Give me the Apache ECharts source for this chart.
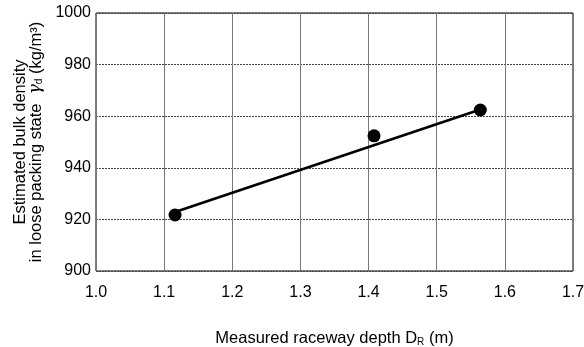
<!DOCTYPE html>
<html><head><meta charset="utf-8">
<script src="https://cdn.jsdelivr.net/npm/echarts@6/dist/echarts.min.js"></script>
<style>html,body{margin:0;padding:0;background:#fff}#c{width:584px;height:347px}</style>
</head><body><div id="c"></div>
<script>
var xTicks = [1.0, 1.1, 1.2, 1.3, 1.4, 1.5, 1.6, 1.7];
var yTicks = [900, 920, 940, 960, 980, 1000];
var measuredDepth = [1.116, 1.408, 1.564];
var bulkDensity = [921.7, 952.4, 962.4];
var fitX = [1.116, 1.564];
var fitY = [922.9, 962.6];

var pts = measuredDepth.map(function(x, i){ return [x, bulkDensity[i]]; });
var fit = fitX.map(function(x, i){ return [x, fitY[i]]; });
var F = '"Liberation Sans", Arial, sans-serif';
var chart = echarts.init(document.getElementById('c'), null, {renderer:'canvas'});
chart.setOption({
  animation:false,
  grid:{left:96, right:11, top:13, bottom:76, outerBoundsMode:'none', containLabel:false, show:true, borderColor:'#000', borderWidth:1, backgroundColor:'transparent'},
  xAxis:{type:'value', min:xTicks[0], max:xTicks[xTicks.length-1], interval:0.1,
    axisLine:{show:false}, axisTick:{show:false},
    axisLabel:{fontFamily:F, fontSize:16, color:'#000', margin:14, formatter:function(v){return v.toFixed(1);}},
    splitLine:{show:true, lineStyle:{color:'#777', width:1}},
    name:'{s|Measured raceway depth D}{sub|R}{s| (m)}', nameLocation:'middle', nameGap:59,
    nameTextStyle:{fontFamily:F, fontSize:16.5, color:'#000',
      rich:{s:{fontFamily:F, fontSize:16.5, color:'#000'}, sub:{fontFamily:F, fontSize:10, color:'#000', verticalAlign:'bottom', padding:[7,0,0,0]}}}
  },
  yAxis:{type:'value', min:yTicks[0], max:yTicks[yTicks.length-1], interval:20,
    axisLine:{show:false}, axisTick:{show:false},
    axisLabel:{fontFamily:F, fontSize:16, color:'#000', margin:5, formatter:function(v){return String(v);}},
    splitLine:{show:true, lineStyle:{color:'#444', width:1, type:[2,1]}},
    name:'{s|Estimated bulk density}\n{s|in loose packing state  }{g|γ}{sub|d}{s| (kg/m³)}', nameLocation:'middle', nameGap:48, nameRotate:90,
    nameTextStyle:{fontFamily:F, fontSize:16.5, color:'#000', lineHeight:16,
      rich:{s:{fontFamily:F, fontSize:16.5, color:'#000', lineHeight:16}, g:{fontFamily:'"DejaVu Serif", serif', fontStyle:'italic', fontSize:17, color:'#000', lineHeight:16}, sub:{fontFamily:F, fontSize:10, color:'#000', lineHeight:16, verticalAlign:'bottom', padding:[6,0,0,0]}}}
  },
  series:[
    {type:'line', data:fit, symbol:'none', lineStyle:{color:'#000', width:2.6}, z:2},
    {type:'scatter', data:pts, symbol:'circle', symbolSize:13, itemStyle:{color:'#000', opacity:1}, z:3}
  ]
});
</script></body></html>
